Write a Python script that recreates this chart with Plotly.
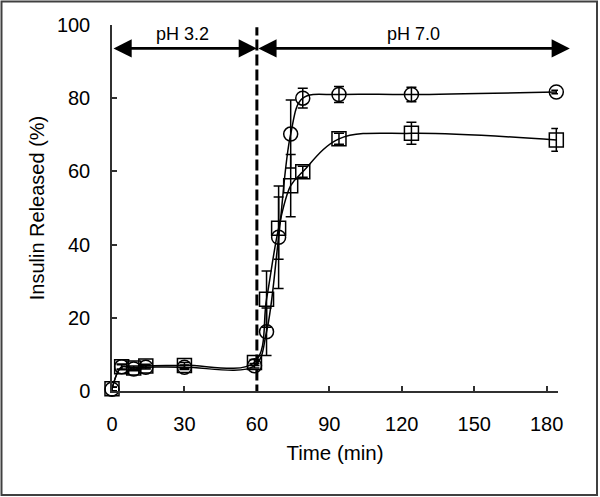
import plotly.graph_objects as go

# ---- data ----
time_min = [0, 4, 9, 14, 30, 59, 64, 69, 74, 79, 94, 124, 184]
circle_vals = [0.5, 6.6, 6.0, 6.5, 6.5, 6.9, 16.2, 42.0, 70.2, 80.0, 81.0, 81.0, 81.7]
circle_err = [0.5, 0.8, 0.5, 0.5, 0.6, 0.6, 6.5, 14.0, 9.3, 2.7, 2.2, 2.0, 0.5]
square_vals = [0.6, 6.6, 6.3, 6.8, 7.0, 7.8, 25.1, 44.5, 56.1, 59.9, 68.9, 70.4, 68.6]
square_err = [0.5, 0.6, 0.5, 0.5, 0.8, 0.8, 7.7, 8.5, 8.5, 1.5, 1.5, 3.0, 3.1]

x_ticks = [0, 30, 60, 90, 120, 150, 180]
y_ticks = [0, 20, 40, 60, 80, 100]

phase_labels = ["pH 3.2", "pH 7.0"]
phase_start = [0, 60]
phase_end = [60, 189.6]
phase_label_x = [29, 125]
arrow_y = 93.6
label_y = 97.5
switch_time = 60

FONT = "Liberation Sans, Arial, sans-serif"
INK = "black"

fig = go.Figure()

for vals, errs, sym in [(square_vals, square_err, "square-open"),
                        (circle_vals, circle_err, "circle-open")]:
    fig.add_trace(go.Scatter(
        x=time_min, y=vals,
        mode="lines+markers",
        line=dict(color=INK, width=1.5, shape="spline", smoothing=1.0),
        marker=dict(symbol=sym, size=14, color=INK, line=dict(color=INK, width=1.5)),
        error_y=dict(type="data", array=errs, visible=True, color=INK,
                     thickness=1.5, width=5),
        cliponaxis=False,
        showlegend=False,
    ))

# dashed vertical line at pH switch
fig.add_shape(type="line", xref="x", yref="y",
              x0=switch_time, x1=switch_time, y0=-1.2, y1=99.4,
              line=dict(color=INK, width=3, dash="11px,4px"))

# phase arrows and labels
for lbl, xs, xe, lx in zip(phase_labels, phase_start, phase_end, phase_label_x):
    fig.add_annotation(x=xe, y=arrow_y, ax=xs, ay=arrow_y,
                       xref="x", yref="y", axref="x", ayref="y",
                       text="", showarrow=True, arrowhead=2, arrowside="end+start",
                       arrowsize=1.3, arrowwidth=2.8, arrowcolor=INK,
                       standoff=0, startstandoff=0)
    fig.add_annotation(x=lx, y=label_y, xref="x", yref="y", text=lbl,
                       showarrow=False, font=dict(family=FONT, size=18, color=INK))

# outer frame of the image
W, H = 600, 497
ml, mr, mt, mb = 112, 42, 25, 106
pw, ph = W - ml - mr, H - mt - mb
fig.add_shape(type="rect", xref="paper", yref="paper",
              x0=(1.5 - ml) / pw, x1=(597 - ml) / pw,
              y0=-(mb - 2) / ph,
              y1=1 + (mt - 1.5) / ph,
              line=dict(color="#404040", width=2), fillcolor="rgba(0,0,0,0)")

axis_common = dict(
    showgrid=False, zeroline=False, showline=True, linecolor="#303030", linewidth=1.5,
    ticks="inside", ticklen=5, tickwidth=1.5, tickcolor="#303030",
    tickfont=dict(family=FONT, size=20, color=INK),
)

fig.update_layout(
    width=W, height=H,
    margin=dict(l=ml, r=mr, t=mt, b=mb, pad=0),
    paper_bgcolor="white", plot_bgcolor="white",
    xaxis=dict(range=[0, 184.7], tickvals=x_ticks, ticklabelstandoff=14,
               title=dict(text="Time (min)", font=dict(family=FONT, size=20.5, color=INK),
                          standoff=12),
               **axis_common),
    yaxis=dict(range=[0, 100], tickvals=y_ticks, ticklabelstandoff=16,
               title=dict(text="Insulin Released (%)", font=dict(family=FONT, size=20, color=INK),
                          standoff=7),
               **axis_common),
)

fig.write_html("out.html", config={"displayModeBar": False},
               post_script="document.body.style.margin='0';document.body.style.overflow='hidden';")
